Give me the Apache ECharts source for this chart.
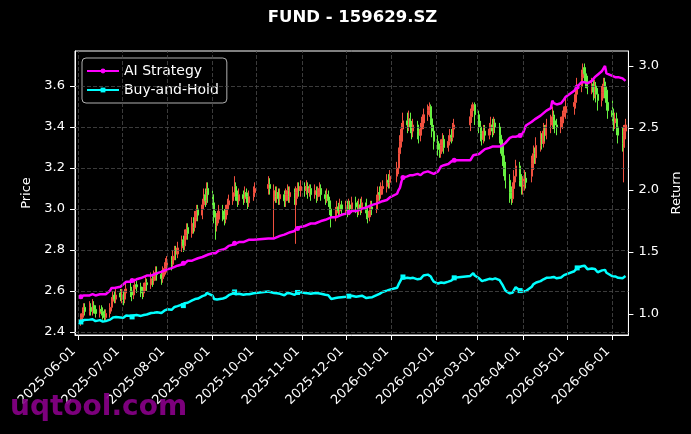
<!DOCTYPE html>
<html><head><meta charset="utf-8">
<script src="https://cdn.jsdelivr.net/npm/echarts@6/dist/echarts.min.js"></script>
<style>html,body{margin:0;padding:0;background:#000;}#c{width:691px;height:434px;}</style>
</head><body><div id="c"></div>
<script>
const chartTitle = 'FUND - 159629.SZ';
const watermark = 'uqtool.com';
const seriesNames = ['AI Strategy', 'Buy-and-Hold'];
const firstDay = [2025, 6, 3], lastDay = [2026, 6, 10];
const holidays = ['2025-10-01','2025-10-02','2025-10-03','2025-10-06','2025-10-07','2025-10-08',
  '2026-01-01','2026-01-02','2026-02-16','2026-02-17','2026-02-18','2026-02-19','2026-02-20','2026-02-23',
  '2026-04-06','2026-05-01','2026-05-04','2026-05-05'];
const monthTicks = ['2025-06-01','2025-07-01','2025-08-01','2025-09-01','2025-10-01','2025-11-01','2025-12-01',
  '2026-01-01','2026-02-01','2026-03-01','2026-04-01','2026-05-01','2026-06-01'];
const priceTicks = [2.4, 2.6, 2.8, 3.0, 3.2, 3.4, 3.6];
const returnTicks = [1.0, 1.5, 2.0, 2.5, 3.0];

const openP = [
 2.45,2.47,2.49,2.52,2.50,2.52,2.50,2.53,2.51,2.49,2.51,2.50,2.49,2.47,2.49,2.52,2.55,2.58,2.56,2.59,
 2.57,2.58,2.56,2.59,2.61,2.60,2.58,2.61,2.63,2.62,2.60,2.59,2.62,2.64,2.63,2.66,2.65,2.67,2.69,2.68,2.66,2.69,2.71,
 2.72,2.75,2.73,2.77,2.80,2.78,2.81,2.85,2.82,2.87,2.91,2.88,2.94,2.91,2.96,3.00,2.97,3.02,3.07,3.04,3.10,
 3.07,3.03,2.96,2.92,2.95,2.99,2.97,2.95,2.99,3.02,3.04,3.08,3.11,3.06,3.04,3.07,3.05,3.08,3.06,3.03,3.06,3.08,
 3.10,3.12,3.04,3.09,3.06,3.08,3.05,3.07,3.04,3.07,3.09,3.06,3.08,3.02,3.08,3.10,3.09,
 3.11,3.09,3.11,3.08,3.10,3.07,3.09,3.06,3.08,3.10,3.07,3.05,3.07,3.04,3.00,2.96,2.98,3.01,2.99,3.02,
 3.00,3.01,2.99,3.02,3.00,3.03,3.01,2.99,3.02,3.00,3.03,2.98,2.96,2.99,3.01,3.00,3.04,3.08,3.07,3.10,3.11,3.14,3.13,
 3.16,3.20,3.27,3.33,3.39,3.43,3.41,3.44,3.41,3.38,3.41,3.38,3.36,3.39,3.42,3.46,3.48,3.50,3.44,3.38,
 3.33,3.29,3.27,3.31,3.34,3.30,3.33,3.36,3.35,3.39,3.41,3.45,3.48,3.51,
 3.46,3.40,3.37,3.34,3.38,3.36,3.39,3.41,3.38,3.42,3.40,3.36,3.31,3.26,3.20,3.14,3.08,3.05,3.10,3.16,3.21,3.14,
 3.11,3.12,3.15,3.16,3.22,3.27,3.25,3.31,3.34,3.32,3.38,3.36,3.41,3.42,3.45,3.43,3.41,3.40,3.42,3.45,3.47,
 3.50,3.52,3.56,3.60,3.64,3.69,3.66,3.62,3.59,3.61,3.57,3.60,3.56,3.53,3.57,3.62,3.58,3.52,
 3.48,3.45,3.42,3.44,3.40,3.36,3.30,3.38];
const closeP = [
 2.47,2.49,2.51,2.50,2.52,2.50,2.53,2.51,2.49,2.51,2.50,2.48,2.47,2.49,2.52,2.55,2.57,2.56,2.58,2.57,
 2.58,2.56,2.59,2.61,2.60,2.58,2.61,2.63,2.62,2.60,2.59,2.62,2.64,2.63,2.66,2.65,2.67,2.69,2.68,2.66,2.69,2.71,2.72,
 2.74,2.73,2.77,2.79,2.78,2.81,2.84,2.82,2.87,2.90,2.88,2.93,2.91,2.96,2.99,2.97,3.02,3.06,3.04,3.09,3.07,
 3.03,2.96,2.92,2.95,2.99,2.97,2.95,2.99,3.02,3.04,3.08,3.11,3.06,3.04,3.07,3.05,3.08,3.06,3.03,3.06,3.08,3.10,
 3.12,3.10,3.09,3.06,3.08,3.05,3.07,3.04,3.07,3.09,3.06,3.08,3.05,3.08,3.10,3.09,3.11,
 3.09,3.11,3.08,3.10,3.07,3.09,3.06,3.08,3.10,3.07,3.05,3.07,3.04,3.00,2.96,2.98,3.01,2.99,3.02,3.00,
 3.01,2.99,3.02,3.00,3.03,3.01,2.99,3.02,3.00,3.03,2.98,2.96,2.99,3.01,3.00,3.04,3.08,3.07,3.10,3.11,3.14,3.13,3.16,
 3.20,3.27,3.33,3.39,3.43,3.41,3.44,3.40,3.38,3.41,3.38,3.36,3.39,3.42,3.46,3.48,3.50,3.44,3.38,3.33,
 3.29,3.27,3.31,3.34,3.30,3.33,3.36,3.35,3.39,3.41,3.45,3.48,3.51,3.46,
 3.40,3.37,3.34,3.38,3.36,3.39,3.41,3.38,3.42,3.40,3.36,3.31,3.26,3.20,3.14,3.08,3.05,3.10,3.16,3.21,3.14,3.11,
 3.12,3.15,3.13,3.22,3.27,3.25,3.31,3.34,3.32,3.38,3.36,3.41,3.42,3.45,3.43,3.41,3.40,3.42,3.45,3.47,3.50,
 3.52,3.56,3.60,3.64,3.68,3.66,3.62,3.59,3.61,3.57,3.60,3.56,3.53,3.57,3.61,3.58,3.52,3.48,
 3.45,3.42,3.44,3.40,3.36,3.32,3.38,3.41];
const lowP = [
 2.43,2.45,2.47,2.48,2.48,2.48,2.48,2.49,2.47,2.47,2.48,2.46,2.45,2.45,2.47,2.50,2.53,2.54,2.54,2.55,
 2.54,2.53,2.54,2.57,2.57,2.55,2.56,2.59,2.59,2.57,2.56,2.57,2.60,2.60,2.61,2.62,2.63,2.65,2.65,2.63,2.64,2.67,2.68,
 2.69,2.70,2.71,2.75,2.75,2.76,2.79,2.79,2.80,2.85,2.85,2.86,2.88,2.89,2.94,2.94,2.95,3.00,3.01,3.02,3.03,
 3.00,2.93,2.85,2.89,2.93,2.94,2.92,2.93,2.97,3.00,3.02,3.06,3.04,3.01,3.02,3.02,3.03,3.03,3.00,3.01,3.04,3.06,
 3.07,3.07,2.86,3.03,3.03,3.02,3.02,3.01,3.01,3.04,3.03,3.03,3.02,2.83,3.05,3.06,3.06,
 3.06,3.07,3.05,3.06,3.04,3.05,3.03,3.04,3.06,3.04,3.02,3.03,3.01,2.97,2.91,2.94,2.96,2.96,2.97,2.97,
 2.97,2.96,2.97,2.97,2.98,2.98,2.96,2.97,2.97,2.98,2.95,2.93,2.94,2.96,2.97,2.98,3.02,3.04,3.05,3.07,3.08,3.10,3.10,
 3.13,3.17,3.24,3.30,3.36,3.37,3.38,3.37,3.34,3.35,3.34,3.32,3.33,3.36,3.39,3.43,3.45,3.41,3.35,3.29,
 3.26,3.25,3.25,3.28,3.27,3.28,3.31,3.32,3.33,3.36,3.38,3.42,3.45,3.41,
 3.37,3.33,3.31,3.32,3.33,3.34,3.36,3.35,3.36,3.37,3.32,3.27,3.21,3.16,3.10,3.03,3.02,3.03,3.07,3.13,3.11,3.07,
 3.07,3.09,3.10,3.13,3.19,3.22,3.22,3.28,3.29,3.30,3.33,3.34,3.37,3.39,3.39,3.37,3.36,3.37,3.39,3.42,3.44,
 3.46,3.49,3.53,3.57,3.61,3.62,3.59,3.56,3.56,3.53,3.54,3.52,3.48,3.50,3.54,3.54,3.48,3.44,
 3.41,3.38,3.39,3.36,3.32,3.28,3.13,3.34];
const highP = [
 2.49,2.52,2.54,2.54,2.55,2.54,2.56,2.55,2.53,2.53,2.53,2.52,2.51,2.51,2.54,2.57,2.60,2.60,2.61,2.61,
 2.61,2.60,2.61,2.64,2.64,2.62,2.63,2.66,2.65,2.64,2.62,2.64,2.67,2.66,2.69,2.68,2.70,2.72,2.72,2.70,2.72,2.74,2.76,
 2.77,2.77,2.80,2.82,2.82,2.84,2.87,2.87,2.90,2.93,2.93,2.96,2.96,2.99,3.02,3.02,3.05,3.10,3.10,3.13,3.13,
 3.09,3.05,2.99,2.98,3.02,3.02,3.00,3.02,3.05,3.07,3.11,3.16,3.13,3.09,3.10,3.09,3.11,3.10,3.08,3.09,3.11,3.13,
 3.16,3.15,3.12,3.11,3.11,3.10,3.10,3.09,3.10,3.12,3.11,3.11,3.10,3.11,3.13,3.13,3.14,
 3.13,3.14,3.13,3.12,3.12,3.12,3.11,3.11,3.13,3.12,3.09,3.10,3.09,3.06,3.02,3.01,3.04,3.03,3.05,3.04,
 3.04,3.04,3.05,3.04,3.06,3.06,3.04,3.05,3.05,3.06,3.05,3.01,3.02,3.04,3.04,3.07,3.11,3.11,3.13,3.14,3.17,3.17,3.19,
 3.23,3.30,3.36,3.42,3.47,3.47,3.48,3.47,3.43,3.44,3.43,3.41,3.42,3.45,3.49,3.51,3.52,3.51,3.47,3.41,
 3.36,3.32,3.34,3.37,3.36,3.36,3.39,3.39,3.42,3.44,3.49,3.51,3.52,3.52,
 3.48,3.43,3.40,3.41,3.41,3.42,3.45,3.44,3.45,3.44,3.42,3.39,3.34,3.29,3.23,3.17,3.11,3.13,3.19,3.24,3.23,3.17,
 3.16,3.19,3.18,3.26,3.31,3.30,3.35,3.38,3.37,3.42,3.41,3.44,3.46,3.50,3.48,3.46,3.44,3.45,3.48,3.50,3.54,
 3.56,3.59,3.64,3.68,3.71,3.71,3.68,3.65,3.64,3.63,3.63,3.62,3.59,3.60,3.64,3.64,3.60,3.55,
 3.53,3.49,3.47,3.47,3.43,3.40,3.41,3.44];
const aiStrategy = [
 1.14,1.14,1.15,1.15,1.15,1.15,1.16,1.16,1.15,1.16,1.16,1.16,1.15,1.16,1.19,1.21,1.22,1.21,1.22,1.22,
 1.23,1.24,1.25,1.26,1.26,1.27,1.27,1.28,1.28,1.29,1.29,1.30,1.30,1.31,1.31,1.32,1.32,1.33,1.33,1.34,1.34,1.35,1.36,
 1.36,1.37,1.37,1.38,1.39,1.39,1.40,1.41,1.41,1.42,1.43,1.43,1.44,1.44,1.45,1.45,1.46,1.46,1.47,1.48,1.48,
 1.49,1.49,1.49,1.50,1.51,1.52,1.52,1.53,1.54,1.55,1.56,1.57,1.57,1.57,1.58,1.58,1.59,1.59,1.59,1.60,1.60,1.61,
 1.61,1.61,1.61,1.62,1.62,1.63,1.63,1.64,1.64,1.65,1.65,1.66,1.67,1.69,1.69,1.70,1.70,
 1.71,1.71,1.72,1.72,1.73,1.73,1.74,1.74,1.75,1.75,1.76,1.76,1.77,1.77,1.78,1.78,1.79,1.79,1.80,1.80,
 1.81,1.81,1.82,1.82,1.83,1.83,1.84,1.84,1.85,1.85,1.86,1.86,1.87,1.88,1.88,1.89,1.90,1.90,1.91,1.91,1.92,1.93,1.94,
 1.97,2.00,2.02,2.07,2.10,2.11,2.11,2.12,2.11,2.12,2.13,2.13,2.12,2.13,2.14,2.15,2.14,2.14,2.13,2.13,
 2.15,2.17,2.19,2.19,2.20,2.21,2.22,2.23,2.24,2.24,2.24,2.26,2.28,2.27,
 2.29,2.30,2.31,2.32,2.33,2.34,2.34,2.35,2.35,2.35,2.35,2.36,2.36,2.35,2.38,2.42,2.42,2.43,2.43,2.43,2.44,2.44,
 2.46,2.49,2.52,2.55,2.56,2.57,2.58,2.60,2.61,2.62,2.63,2.64,2.66,2.72,2.70,2.69,2.69,2.70,2.71,2.73,2.75,
 2.80,2.82,2.83,2.87,2.88,2.87,2.86,2.86,2.88,2.89,2.91,2.91,2.93,2.96,2.98,3.00,2.94,2.93,
 2.92,2.92,2.91,2.91,2.91,2.90,2.89,2.88];
const buyHold = [
 0.936,0.943,0.951,0.947,0.955,0.947,0.958,0.951,0.943,0.951,0.947,0.939,0.936,0.943,0.955,0.966,0.973,0.970,0.977,0.973,
 0.977,0.970,0.981,0.989,0.985,0.977,0.989,0.996,0.992,0.985,0.981,0.992,1.000,0.996,1.008,1.004,1.011,1.019,1.015,1.008,1.019,1.027,1.030,
 1.038,1.034,1.049,1.057,1.053,1.064,1.076,1.068,1.087,1.098,1.091,1.110,1.102,1.121,1.133,1.125,1.144,1.159,1.152,1.170,1.163,
 1.148,1.121,1.106,1.117,1.133,1.125,1.117,1.133,1.144,1.152,1.167,1.178,1.159,1.152,1.163,1.155,1.167,1.159,1.148,1.159,1.167,1.174,
 1.182,1.174,1.170,1.159,1.167,1.155,1.163,1.152,1.163,1.170,1.159,1.167,1.155,1.167,1.174,1.170,1.178,
 1.170,1.178,1.167,1.174,1.163,1.170,1.159,1.167,1.174,1.163,1.155,1.163,1.152,1.136,1.121,1.129,1.140,1.133,1.144,1.136,
 1.140,1.133,1.144,1.136,1.148,1.140,1.133,1.144,1.136,1.148,1.129,1.121,1.133,1.140,1.136,1.152,1.167,1.163,1.174,1.178,1.189,1.186,1.197,
 1.212,1.239,1.261,1.284,1.299,1.292,1.303,1.288,1.280,1.292,1.280,1.273,1.284,1.295,1.311,1.318,1.326,1.303,1.280,1.261,
 1.246,1.239,1.254,1.265,1.250,1.261,1.273,1.269,1.284,1.292,1.307,1.318,1.330,1.311,
 1.288,1.277,1.265,1.280,1.273,1.284,1.292,1.280,1.295,1.288,1.273,1.254,1.235,1.212,1.189,1.167,1.155,1.174,1.197,1.216,1.189,1.178,
 1.182,1.193,1.186,1.220,1.239,1.231,1.254,1.265,1.258,1.280,1.273,1.292,1.295,1.307,1.299,1.292,1.288,1.295,1.307,1.314,1.326,
 1.345,1.360,1.372,1.385,1.398,1.390,1.375,1.362,1.368,1.352,1.364,1.348,1.337,1.352,1.367,1.356,1.333,1.318,
 1.305,1.298,1.303,1.296,1.292,1.288,1.300,1.306];

function ts(s) { const p = s.split('-').map(Number); return new Date(p[0], p[1] - 1, p[2]).getTime(); }
function fmt(t) { const d = new Date(t); return d.getFullYear() + '-' + String(d.getMonth() + 1).padStart(2, '0') + '-' + String(d.getDate()).padStart(2, '0'); }

const days = [];
for (let d = new Date(firstDay[0], firstDay[1] - 1, firstDay[2]); d <= new Date(lastDay[0], lastDay[1] - 1, lastDay[2]); d.setDate(d.getDate() + 1)) {
  const w = d.getDay();
  if (w === 0 || w === 6) continue;
  if (holidays.includes(fmt(d.getTime()))) continue;
  days.push(d.getTime());
}
const n = Math.min(days.length, closeP.length);
const candles = [], aiData = [], bhData = [];
for (let i = 0; i < n; i++) {
  candles.push([days[i], openP[i], closeP[i], lowP[i], highP[i]]);
  aiData.push([days[i], aiStrategy[i]]);
  bhData.push([days[i], buyHold[i]]);
}
const monthTs = monthTicks.map(ts);

const FONT = 'DejaVu Sans';
const UP = '#f0503f', DOWN = '#66f040';
const chart = echarts.init(document.getElementById('c'), null, { renderer: 'canvas' });
const markEvery = (v, p) => (p && p.dataIndex % 25 === 0 ? 5 : 0);
chart.setOption({
  backgroundColor: '#000000',
  animation: false,
  textStyle: { fontFamily: FONT },
  grid: { left: 75, right: 61, top: 51, bottom: 99, show: true, borderColor: '#ffffff', borderWidth: 1, backgroundColor: 'transparent' },
  legend: {
    data: seriesNames, orient: 'vertical', left: 82, top: 58,
    itemWidth: 32, itemHeight: 6, itemGap: 5,
    textStyle: { color: '#ffffff', fontSize: 14, fontFamily: FONT },
    backgroundColor: '#000000', borderColor: '#b0b0b0', borderWidth: 1, borderRadius: 4,
    padding: [6, 8, 6, 4]
  },
  xAxis: {
    type: 'value', min: ts('2025-05-30'), max: ts('2026-06-12'), scale: true,
    axisLine: { show: true, lineStyle: { color: '#ffffff', width: 1 } },
    axisTick: { show: true, length: 5, customValues: monthTs, lineStyle: { color: '#ffffff' } },
    axisLabel: { customValues: monthTs, rotate: 45, color: '#ffffff', fontSize: 13, fontFamily: FONT,
      margin: 10, padding: [0, 6, 0, 0], formatter: v => fmt(v) },
    splitLine: { show: false }
  },
  yAxis: [
    { type: 'value', position: 'left', min: 2.385, max: 3.771,
      name: 'Price', nameLocation: 'middle', nameGap: 35, nameTextStyle: { color: '#ffffff', fontSize: 13, fontFamily: FONT },
      axisLine: { show: true, lineStyle: { color: '#ffffff' } },
      axisTick: { show: true, length: 5, customValues: priceTicks, lineStyle: { color: '#ffffff' } },
      axisLabel: { customValues: priceTicks, color: '#ffffff', fontSize: 13, fontFamily: FONT, margin: 10, formatter: v => v.toFixed(1) },
      splitLine: { show: false } },
    { type: 'value', position: 'right', min: 0.831, max: 3.121,
      name: 'Return', nameLocation: 'middle', nameGap: 33, nameTextStyle: { color: '#ffffff', fontSize: 13, fontFamily: FONT },
      axisLine: { show: true, lineStyle: { color: '#ffffff' } },
      axisTick: { show: true, length: 5, customValues: returnTicks, lineStyle: { color: '#ffffff' } },
      axisLabel: { customValues: returnTicks, color: '#ffffff', fontSize: 13, fontFamily: FONT, margin: 10, formatter: v => v.toFixed(1) },
      splitLine: { show: false } }
  ],
  graphic: [
    { type: 'text', x: 352.5, y: 18, z: 10, style: { text: chartTitle, fill: '#ffffff', font: 'bold 16.5px "DejaVu Sans"', align: 'center', verticalAlign: 'middle' } },
    { type: 'text', x: 10, y: 408, z: 100, style: { text: watermark, fill: 'rgba(135,0,135,0.92)', font: 'bold 28px "DejaVu Sans"', align: 'left', verticalAlign: 'middle' } }
  ],
  series: [
    { name: 'grid', type: 'line', data: [], z: 1, silent: true,
      markLine: { silent: true, symbol: ['none', 'none'], label: { show: false }, animation: false,
        lineStyle: { color: '#4a4a4a', type: [4, 2], width: 0.8 },
        data: monthTs.map(m => ({ xAxis: m })).concat(priceTicks.map(v => ({ yAxis: v }))) } },
    { name: 'Price', type: 'candlestick', data: candles, encode: { x: 0, y: [1, 2, 3, 4] }, z: 2,
      barWidth: 1.6,
      itemStyle: { color: UP, color0: DOWN, borderColor: UP, borderColor0: DOWN, borderWidth: 1 } },
    { name: seriesNames[0], type: 'line', yAxisIndex: 1, data: aiData, z: 3,
      color: '#ff00ff', lineStyle: { width: 2.5, color: '#ff00ff' }, itemStyle: { color: '#ff00ff' },
      symbol: 'circle', showSymbol: true, showAllSymbol: true, symbolSize: markEvery },
    { name: seriesNames[1], type: 'line', yAxisIndex: 1, data: bhData, z: 3,
      color: '#00ffff', lineStyle: { width: 2.5, color: '#00ffff' }, itemStyle: { color: '#00ffff' },
      symbol: 'rect', showSymbol: true, showAllSymbol: true, symbolSize: markEvery }
  ]
});
</script>
</body></html>
